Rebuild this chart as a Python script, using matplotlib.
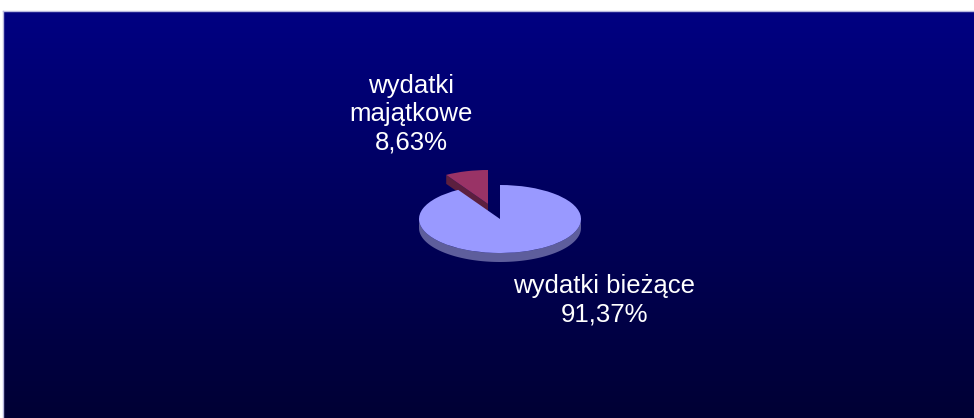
import numpy as np
import matplotlib
matplotlib.use("Agg")
import matplotlib.pyplot as plt
from matplotlib.patches import Wedge, Polygon
from matplotlib.transforms import Affine2D
from matplotlib.colors import LinearSegmentedColormap

# ---- data ----
categories = ["wydatki bieżące", "wydatki\nmajątkowe"]
values = [91.37, 8.63]
colors_top = ["#9999FF", "#993366"]
colors_side = ["#5E5E9C", "#5C1F3F"]

W, H = 974, 418
fig = plt.figure(figsize=(W / 100, H / 100), dpi=100, facecolor="white")
ax = fig.add_axes([0, 0, 1, 1])
ax.set_xlim(0, W)
ax.set_ylim(H, 0)
ax.axis("off")

# background gradient
cmap = LinearSegmentedColormap.from_list("bg", ["#000082", "#000034"])
grad = np.linspace(0, 1, 256).reshape(-1, 1)
ax.imshow(grad, cmap=cmap, extent=[3, W, H, 11], aspect="auto", zorder=0)
ax.plot([3, W], [11, 11], color="#B8B8E0", lw=1, zorder=1)
ax.plot([3, 3], [11, H], color="#B8B8E0", lw=1, zorder=1)

# pie geometry (pixels)
cx, cy = 500, 219
rx, ry = 81, 34
depth = 9
explode = [(0, 0), (-12, -15)]

# angles: start at top, clockwise
total = sum(values)
angles = []
start = 90.0
for v in values:
    span = 360.0 * v / total
    angles.append((start - span, start))
    start -= span
angles = [(a1 % 360, a1 % 360 + (a2 - a1)) for a1, a2 in angles]


def rim(theta_deg, ox, oy, dz=0):
    t = np.radians(theta_deg)
    return cx + ox + rx * np.cos(t), cy + oy - ry * np.sin(t) + dz


order = [1, 0]  # back slice first
for i in order:
    t1, t2 = angles[i]
    ox, oy = explode[i]
    px, py = cx + ox, cy + oy
    z = 2 + (0 if i == 1 else 3)
    # outer side wall (front-facing part)
    for k in range(-1, 3):
        lo = max(t1, 180 + 360 * k)
        hi = min(t2, 360 + 360 * k)
        if hi > lo:
            th = np.linspace(lo, hi, 100)
            xs, ys = rim(th, ox, oy)
            xb, yb = rim(th[::-1], ox, oy, depth)
            poly = np.column_stack([np.r_[xs, xb], np.r_[ys, yb]])
            ax.add_patch(Polygon(poly, closed=True, fc=colors_side[i], ec="none", zorder=z))
    # visible cut face (end edge facing the viewer)
    t = np.radians(t2)
    if np.cos(t) < -0.05 and np.sin(t) > 0:
        rxp, ryp = rim(t2, ox, oy)
        poly = [(px, py), (rxp, ryp), (rxp, ryp + depth), (px, py + depth)]
        ax.add_patch(Polygon(poly, closed=True, fc=colors_side[i], ec="none", zorder=z))
    # top face
    tr = Affine2D().scale(rx, -ry).translate(px, py) + ax.transData
    ax.add_patch(Wedge((0, 0), 1, t1, t2, fc=colors_top[i], ec="none",
                       transform=tr, zorder=z + 0.5))

# labels
label_pos = [(604, 300), (411, 114)]
for name, v, (lx, ly) in zip(categories, values, label_pos):
    txt = f"{name}\n{v:.2f}%".replace(".", ",")
    ax.text(lx, ly, txt, color="white", fontsize=18.5, ha="center", va="center",
            family=["Liberation Sans", "DejaVu Sans"], linespacing=1.22, zorder=10)

fig.savefig("out.png", dpi=100, facecolor="white")
